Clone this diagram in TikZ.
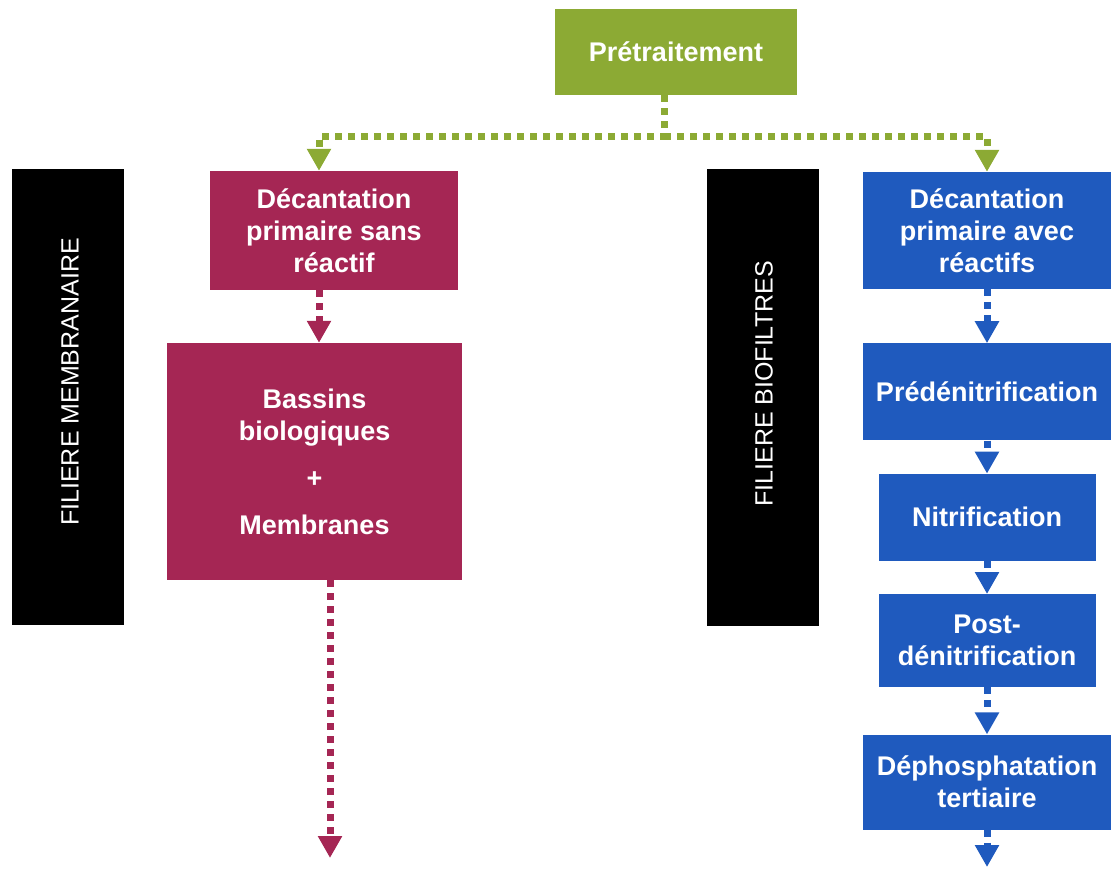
\documentclass[tikz,border=0pt]{standalone}
\usepackage{fontspec}
\setmainfont{Liberation Sans}
\usepackage{tikz}
\usetikzlibrary{positioning, calc, arrows.meta}
\usepackage{xcolor}
\definecolor{vert}{RGB}{140,170,52}
\definecolor{framboise}{RGB}{165,38,84}
\definecolor{bleu}{RGB}{31,90,190}
\newcommand{\boxfont}{\bfseries\fontsize{27}{32}\selectfont}
\tikzset{box/.style={rectangle, inner sep=0pt, align=center, text=white, font=\boxfont}}
\tikzset{membrane/.style={box, fill=framboise}}
\tikzset{biofiltre/.style={box, fill=bleu}}
\tikzset{filiere/.style={rectangle, fill=black, inner sep=0pt, minimum width=112pt, minimum height=456pt}}
\tikzset{filieretext/.style={rotate=90, text=white, inner sep=0pt, font=\fontsize{25}{30}\selectfont}}
\tikzset{flow/.style={line width=7pt, dash pattern=on 7pt off 6pt, -{Triangle[width=23pt, length=22pt]}}}

\begin{document}
\begin{tikzpicture}[x=1pt, y=-1pt]
  \useasboundingbox (0,0) rectangle (1111,869);

  \node[box, fill=vert, minimum width=242pt, minimum height=86pt] (pre) at (676,52) {Prétraitement};

  % filiere membranaire
  \node[filiere] (fm) at (68,397) {};
  \node[filieretext] (fmtext) at (70,382) {FILIERE MEMBRANAIRE};
  \node[membrane, minimum width=248pt, minimum height=119pt] (dec1) at (334,230.5) {Décantation\\primaire sans\\réactif};
  \node[membrane, minimum width=295pt, minimum height=237pt] (bassins) at (314.5,461.5) {Bassins\\biologiques\\[15pt]+\\[15pt]Membranes};

  % filiere biofiltres
  \node[filiere] (fb) at (762.5,397.5) {};
  \node[filieretext] (fbtext) at (764,384) {FILIERE BIOFILTRES};
  \node[biofiltre, minimum width=248pt, minimum height=117pt] (dec2) at (987,230.5) {Décantation\\primaire avec\\réactifs};
  \node[biofiltre, minimum width=248pt, minimum height=97pt] (predenit) [below=54pt of dec2] {Prédénitrification};
  \node[biofiltre, minimum width=217pt, minimum height=87pt] (nitri) [below=33pt of predenit] {Nitrification};
  \node[biofiltre, minimum width=217pt, minimum height=93pt] (postdenit) [below=33pt of nitri] {Post-\\dénitrification};
  \node[biofiltre, minimum width=248pt, minimum height=95pt] (dephos) [below=47pt of postdenit] {Déphosphatation\\tertiaire};

  \coordinate (fork) at (664,137);
  \coordinate (lfork) at (319,137);
  \coordinate (mbend) at (330,858);
  \coordinate (bfend) at (987,867);

  \draw[flow, vert] (pre.south -| fork) -- (fork) -| (dec1.north -| lfork);
  \draw[flow, vert] (fork) -| (dec2.north);

  \draw[flow, framboise] (dec1.south -| lfork) -- (bassins.north -| lfork);
  \draw[flow, framboise] (bassins.south -| mbend) -- (mbend);

  \draw[flow, bleu] (dec2) -- (predenit);
  \draw[flow, bleu] (predenit) -- (nitri);
  \draw[flow, bleu] (nitri) -- (postdenit);
  \draw[flow, bleu] (postdenit) -- (dephos);
  \draw[flow, bleu] (dephos) -- (bfend);

\end{tikzpicture}
\end{document}
